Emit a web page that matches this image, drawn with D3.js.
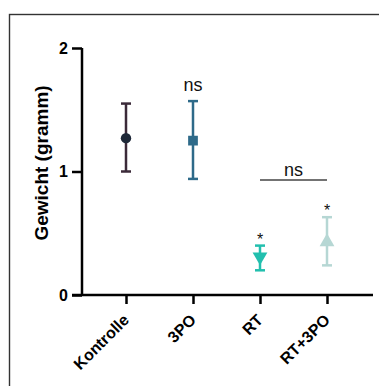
<!DOCTYPE html>
<html>
<head>
<meta charset="utf-8">
<script src="https://cdn.jsdelivr.net/npm/d3@7"></script>
<style>
  body { margin: 0; background: #fff; }
  text { font-family: Arial, "Liberation Sans", sans-serif; }
</style>
</head>
<body>
<div id="chart"></div>
<script>
// groups and values (gramm)
const groups = ["Kontrolle", "3PO", "RT", "RT+3PO"];
const means = [1.27, 1.25, 0.31, 0.43];
const lower = [1.0, 0.94, 0.2, 0.24];
const upper = [1.55, 1.57, 0.4, 0.63];
const colors = ["#3b2a39", "#2e6a89", "#22bfae", "#b6d7d4"];
const markerFill = ["#1e2838", "#2e6a89", "#22bfae", "#b6d7d4"];
const symbols = [d3.symbolCircle, d3.symbolSquare, "down", d3.symbolTriangle];
const yTicks = [0, 1, 2];
const stars = ["", "ns", "*", "*"];

let width = 379, height = 386;

let svg = d3.select("#chart")
  .append("svg")
    .attr("width", width)
    .attr("height", height);

// frame
svg.append("rect")
  .attr("x", 9.5).attr("y", 14.5)
  .attr("width", 400).attr("height", 400)
  .attr("fill", "none")
  .attr("stroke", "#333")
  .attr("stroke-width", 1.4);

let x = d3.scalePoint().domain(groups).range([126, 327]);
let y = d3.scaleLinear().domain([0, 2]).range([295, 48]);

// y axis
let yAxis = svg.append("g")
  .attr("transform", "translate(82,0)")
  .call(d3.axisLeft(y).tickValues(yTicks).tickSize(10).tickPadding(4).tickFormat(d3.format("d")));
yAxis.select(".domain").attr("stroke", "#000").attr("stroke-width", 2.5).attr("d", "M0," + y(2) + "V" + y(0));
yAxis.selectAll(".tick line").attr("stroke", "#000").attr("stroke-width", 2.5);
yAxis.selectAll(".tick text")
  .attr("font-size", 16).attr("font-weight", "bold").attr("fill", "#000")
  .attr("font-family", "Arial, 'Liberation Sans', sans-serif");

// x axis
let xAxis = svg.append("g")
  .attr("transform", "translate(0," + y(0) + ")")
  .call(d3.axisBottom(x).tickSize(9).tickFormat(""));
xAxis.select(".domain").attr("stroke", "#000").attr("stroke-width", 2.5).attr("d", "M72,0H373");
xAxis.selectAll(".tick line").attr("stroke", "#000").attr("stroke-width", 2.5);

svg.append("g").selectAll("text")
  .data(groups)
  .join("text")
    .attr("transform", d => "translate(" + (x(d) + 4) + "," + 321 + ") rotate(-45)")
    .attr("text-anchor", "end")
    .attr("font-size", 16)
    .attr("font-weight", "bold")
    .text(d => d);

// y label
svg.append("text")
  .attr("transform", "translate(48,163) rotate(-90)")
  .attr("text-anchor", "middle")
  .attr("font-size", 19)
  .attr("font-weight", "bold")
  .text("Gewicht (gramm)");

// error bars
let bars = svg.append("g").selectAll("g")
  .data(groups)
  .join("g")
    .attr("stroke", (d, i) => colors[i])
    .attr("stroke-width", 2.5);
bars.append("line")
  .attr("x1", d => x(d)).attr("x2", d => x(d))
  .attr("y1", (d, i) => y(upper[i])).attr("y2", (d, i) => y(lower[i]));
bars.append("line")
  .attr("x1", d => x(d) - 5).attr("x2", d => x(d) + 5)
  .attr("y1", (d, i) => y(upper[i])).attr("y2", (d, i) => y(upper[i]));
bars.append("line")
  .attr("x1", d => x(d) - 5).attr("x2", d => x(d) + 5)
  .attr("y1", (d, i) => y(lower[i])).attr("y2", (d, i) => y(lower[i]));

// markers
svg.append("g").selectAll("path")
  .data(groups)
  .join("path")
    .attr("transform", (d, i) => "translate(" + x(d) + "," + y(means[i]) + ")" + (symbols[i] === "down" ? " rotate(180)" : ""))
    .attr("d", (d, i) => d3.symbol().type(symbols[i] === "down" ? d3.symbolTriangle : symbols[i]).size(symbols[i] === d3.symbolCircle ? 85 : 95)())
    .attr("fill", (d, i) => markerFill[i]);

// significance labels
svg.append("g").selectAll("text")
  .data(groups)
  .join("text")
    .attr("x", d => x(d))
    .attr("y", (d, i) => stars[i] === "ns" ? y(upper[i]) - 10 : y(upper[i]) - 1)
    .attr("text-anchor", "middle")
    .attr("font-size", (d, i) => stars[i] === "ns" ? 18 : 16)
    .attr("fill", "#111")
    .text((d, i) => stars[i]);

// bracket RT vs RT+3PO
svg.append("line")
  .attr("x1", x("RT")).attr("x2", x("RT+3PO"))
  .attr("y1", 180).attr("y2", 180)
  .attr("stroke", "#444").attr("stroke-width", 1.3);
svg.append("text")
  .attr("x", (x("RT") + x("RT+3PO")) / 2)
  .attr("y", 176)
  .attr("text-anchor", "middle")
  .attr("font-size", 18)
  .attr("fill", "#111")
  .text("ns");
</script>
</body>
</html>
